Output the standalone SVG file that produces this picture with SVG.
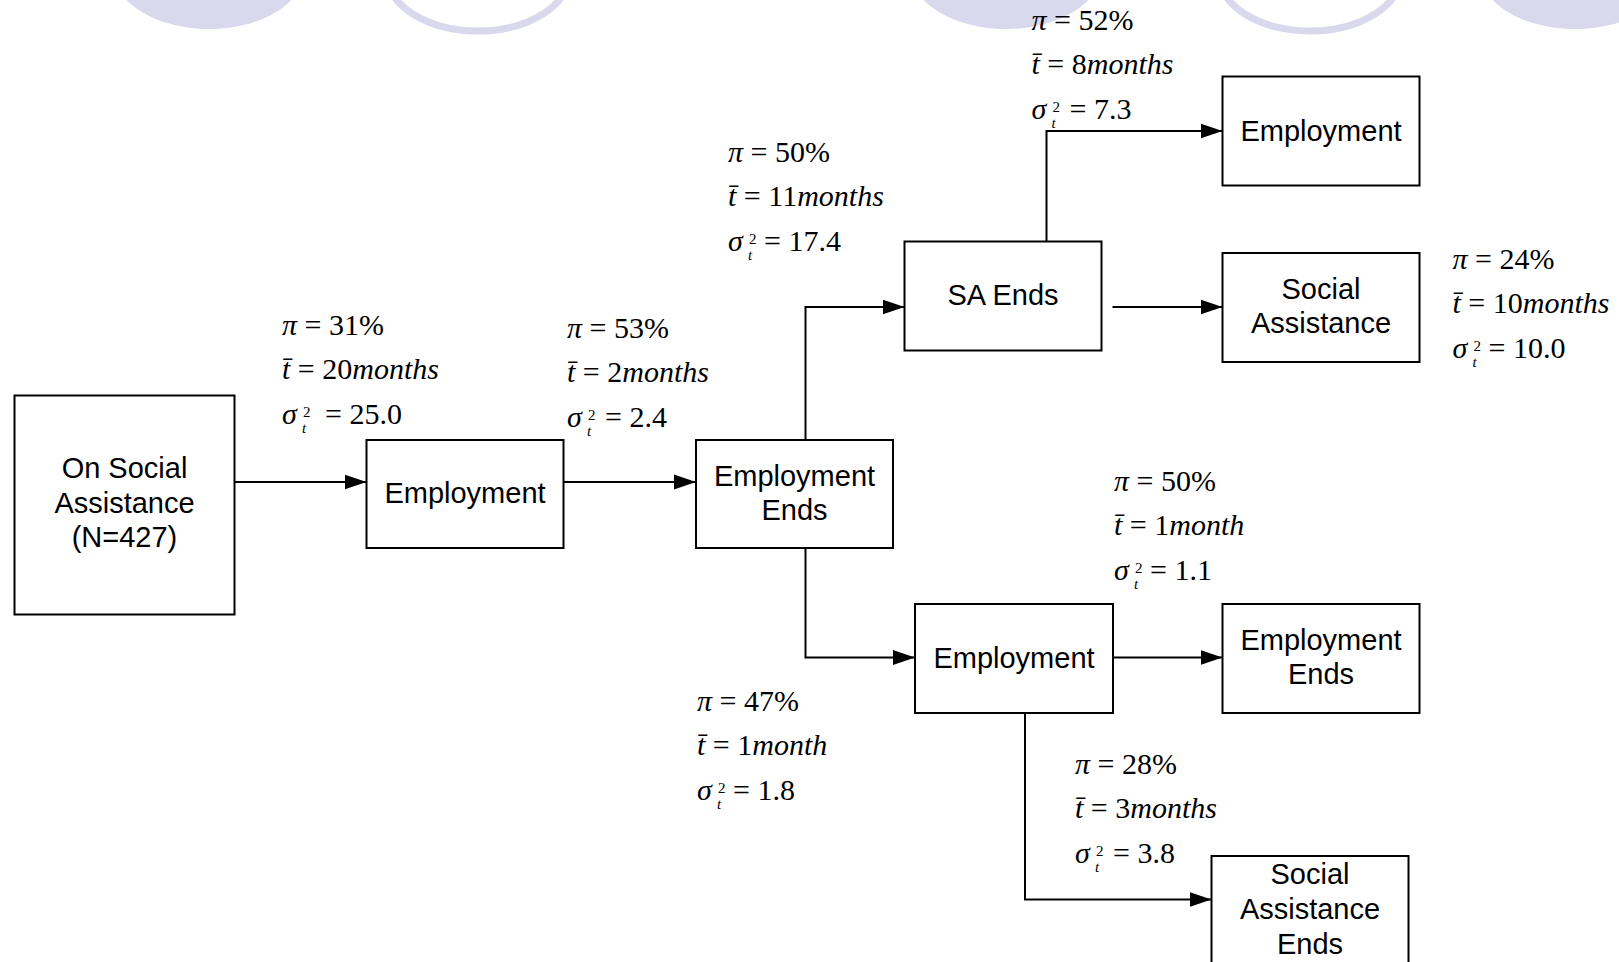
<svg xmlns="http://www.w3.org/2000/svg" width="1619" height="962" viewBox="0 0 1619 962">
  <defs>
    <marker id="arr" markerUnits="userSpaceOnUse" markerWidth="22" markerHeight="16" viewBox="0 0 22 16" refX="22" refY="8" orient="auto">
      <path d="M0,0.5 L22,8 L0,15.5 Z" fill="#000"/>
    </marker>
    <style>
      .deco { fill: #d9d8ec; }
      .ring { fill: none; stroke: #d9d8ec; stroke-width: 7; }
      .box { fill: #fff; stroke: #000; stroke-width: 2; }
      .lbl { font-family: "Liberation Sans", Arial, sans-serif; font-size: 29px; text-anchor: middle; fill: #000; }
      .m { font-family: "Liberation Serif", "Times New Roman", serif; font-size: 30px; fill: #000; }
      .s { font-family: "Liberation Serif", "Times New Roman", serif; font-size: 15px; fill: #000; }
      .i { font-style: italic; }
      .conn path { fill: none; stroke: #000; stroke-width: 2; marker-end: url(#arr); }
    </style>
  </defs>

  <rect width="1619" height="962" fill="#fff"/>

  <!-- page decoration along the top edge -->
  <g id="decoration">
    <ellipse class="deco" cx="209" cy="-29" rx="95" ry="58"/>
    <ellipse class="ring" cx="478" cy="-27" rx="92" ry="58"/>
    <ellipse class="deco" cx="1006" cy="-29" rx="95" ry="58"/>
    <ellipse class="ring" cx="1310" cy="-27" rx="92" ry="58"/>
    <ellipse class="deco" cx="1575" cy="-29" rx="95" ry="58"/>
  </g>

  <!-- connectors -->
  <g id="connectors" class="conn">
    <path d="M234.5,482 H366.5"/>
    <path d="M563.5,482 H696"/>
    <path d="M805.5,440 V307 H904.5"/>
    <path d="M805.5,548 V657.5 H915"/>
    <path d="M1046.5,241.5 V131 H1222.5"/>
    <path d="M1112.5,307 H1222.5"/>
    <path d="M1113,657.5 H1222.5"/>
    <path d="M1025,713.5 V899.5 H1211.5"/>
  </g>

  <!-- state nodes -->
  <g id="n-start">
    <rect class="box" x="14.5" y="395.5" width="220" height="219"/>
    <text class="lbl" x="124.5" y="478">On Social</text>
    <text class="lbl" x="124.5" y="513">Assistance</text>
    <text class="lbl" x="124.5" y="547">(N=427)</text>
  </g>
  <g id="n-emp1">
    <rect class="box" x="366.5" y="440" width="197" height="108"/>
    <text class="lbl" x="465" y="503">Employment</text>
  </g>
  <g id="n-empends1">
    <rect class="box" x="696" y="440" width="197" height="108"/>
    <text class="lbl" x="794.5" y="486">Employment</text>
    <text class="lbl" x="794.5" y="520">Ends</text>
  </g>
  <g id="n-saends">
    <rect class="box" x="904.5" y="241.5" width="197" height="109"/>
    <text class="lbl" x="1003" y="305">SA Ends</text>
  </g>
  <g id="n-emp-top">
    <rect class="box" x="1222.5" y="76.5" width="197" height="109"/>
    <text class="lbl" x="1321" y="141">Employment</text>
  </g>
  <g id="n-socass">
    <rect class="box" x="1222.5" y="253" width="197" height="109"/>
    <text class="lbl" x="1321" y="299">Social</text>
    <text class="lbl" x="1321" y="333">Assistance</text>
  </g>
  <g id="n-emp2">
    <rect class="box" x="915" y="604" width="198" height="109"/>
    <text class="lbl" x="1014" y="668">Employment</text>
  </g>
  <g id="n-empends2">
    <rect class="box" x="1222.5" y="604" width="197" height="109"/>
    <text class="lbl" x="1321" y="650">Employment</text>
    <text class="lbl" x="1321" y="684">Ends</text>
  </g>
  <g id="n-saends2">
    <rect class="box" x="1211.5" y="856" width="197" height="109"/>
    <text class="lbl" x="1310" y="884">Social</text>
    <text class="lbl" x="1310" y="919">Assistance</text>
    <text class="lbl" x="1310" y="954">Ends</text>
  </g>

  <!-- transition statistics: share, mean duration, variance -->
  <g id="stats-a" transform="translate(282,335)">
    <text class="m"><tspan class="i">π</tspan> = 31%</text>
    <text class="m" y="44"><tspan class="i">t̄</tspan> = 20<tspan class="i">months</tspan></text>
    <text class="m i" y="89">σ</text><text class="s" x="21" y="82">2</text><text class="s i" x="20" y="98">t</text>
    <text class="m" x="43" y="89">= 25.0</text>
  </g>
  <g id="stats-b" transform="translate(567,338)">
    <text class="m"><tspan class="i">π</tspan> = 53%</text>
    <text class="m" y="44"><tspan class="i">t̄</tspan> = 2<tspan class="i">months</tspan></text>
    <text class="m i" y="89">σ</text><text class="s" x="21" y="82">2</text><text class="s i" x="20" y="98">t</text>
    <text class="m" x="38" y="89">= 2.4</text>
  </g>
  <g id="stats-c" transform="translate(728,162)">
    <text class="m"><tspan class="i">π</tspan> = 50%</text>
    <text class="m" y="44"><tspan class="i">t̄</tspan> = 11<tspan class="i">months</tspan></text>
    <text class="m i" y="89">σ</text><text class="s" x="21" y="82">2</text><text class="s i" x="20" y="98">t</text>
    <text class="m" x="36" y="89">= 17.4</text>
  </g>
  <g id="stats-d" transform="translate(1031.5,29.5)">
    <text class="m"><tspan class="i">π</tspan> = 52%</text>
    <text class="m" y="44"><tspan class="i">t̄</tspan> = 8<tspan class="i">months</tspan></text>
    <text class="m i" y="89">σ</text><text class="s" x="21" y="82">2</text><text class="s i" x="20" y="98">t</text>
    <text class="m" x="38" y="89">= 7.3</text>
  </g>
  <g id="stats-e" transform="translate(1452.5,269)">
    <text class="m"><tspan class="i">π</tspan> = 24%</text>
    <text class="m" y="44"><tspan class="i">t̄</tspan> = 10<tspan class="i">months</tspan></text>
    <text class="m i" y="89">σ</text><text class="s" x="21" y="82">2</text><text class="s i" x="20" y="98">t</text>
    <text class="m" x="36" y="89">= 10.0</text>
  </g>
  <g id="stats-f" transform="translate(1114,491)">
    <text class="m"><tspan class="i">π</tspan> = 50%</text>
    <text class="m" y="44"><tspan class="i">t̄</tspan> = 1<tspan class="i">month</tspan></text>
    <text class="m i" y="89">σ</text><text class="s" x="21" y="82">2</text><text class="s i" x="20" y="98">t</text>
    <text class="m" x="36" y="89">= 1.1</text>
  </g>
  <g id="stats-g" transform="translate(697,711)">
    <text class="m"><tspan class="i">π</tspan> = 47%</text>
    <text class="m" y="44"><tspan class="i">t̄</tspan> = 1<tspan class="i">month</tspan></text>
    <text class="m i" y="89">σ</text><text class="s" x="21" y="82">2</text><text class="s i" x="20" y="98">t</text>
    <text class="m" x="36" y="89">= 1.8</text>
  </g>
  <g id="stats-h" transform="translate(1075,774)">
    <text class="m"><tspan class="i">π</tspan> = 28%</text>
    <text class="m" y="44"><tspan class="i">t̄</tspan> = 3<tspan class="i">months</tspan></text>
    <text class="m i" y="89">σ</text><text class="s" x="21" y="82">2</text><text class="s i" x="20" y="98">t</text>
    <text class="m" x="38" y="89">= 3.8</text>
  </g>
</svg>
